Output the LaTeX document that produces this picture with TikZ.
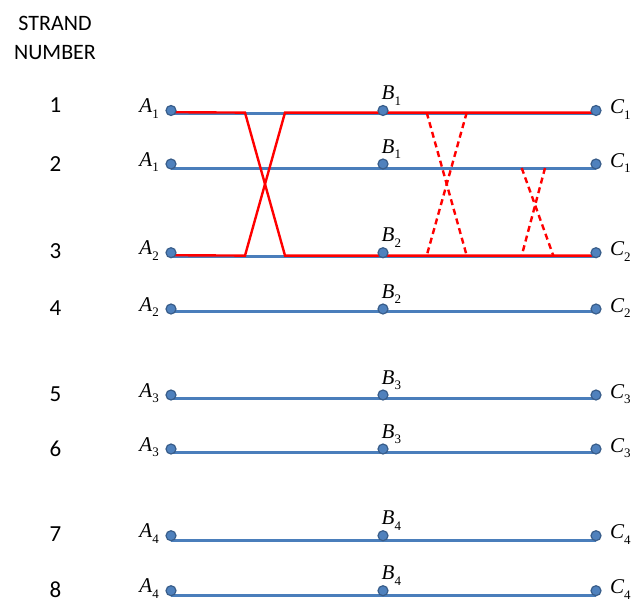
\documentclass[tikz,border=0pt]{standalone}
\usepackage{fontspec}
\setmainfont{Liberation Serif}
\newfontfamily\calib{Carlito}
\definecolor{lineblue}{RGB}{74,126,187}
\definecolor{dotfill}{RGB}{79,129,189}
\definecolor{dotedge}{RGB}{56,93,138}
\pgfdeclarelayer{bg}
\pgfsetlayers{bg,main}
\tikzset{
  dot/.style={circle,fill=dotfill,draw=dotedge,line width=1.2pt,inner sep=0pt,minimum size=10pt},
  strandline/.style={lineblue,line width=3pt},
  redline/.style={red,line width=2.4pt},
  reddash/.style={red,line width=2.4pt,dash pattern=on 6pt off 4pt},
  lbl/.style={font=\fontsize{21}{21}\selectfont\itshape,inner sep=0pt},
  num/.style={font=\calib\fontsize{23}{23}\selectfont,inner sep=0pt},
  ttl/.style={font=\calib\fontsize{22}{29}\selectfont,inner sep=0pt,align=center},
}
\newcommand\lab[2]{#1\raisebox{-0.28em}{\upshape\fontsize{13}{13}\selectfont #2}}
\begin{document}
\begin{tikzpicture}[x=1pt,y=-1pt]
\useasboundingbox (0,0) rectangle (634,603);
\node[ttl] (title) at (55,38) {STRAND\\NUMBER};
\foreach \i/\dy/\ly/\ny/\k in {1/110.5/113/105/1, 2/164/168/164/1, 3/252.7/256/251/2, 4/309/311.5/308/2, 5/395/398/394/3, 6/449/452.5/449/3, 7/535.7/540/534/4, 8/590.7/595.5/590/4}{
  \node[num] (n\i) at (55.5,\ny) {\i};
  \node[dot] (a\i) at (171,\dy) {};
  \node[dot] (b\i) at (383,\dy) {};
  \node[dot] (c\i) at (596,\dy) {};
  \coordinate (la\i) at (171,\ly);
  \coordinate (lc\i) at (596,\ly);
  \node[lbl,anchor=base east] (ta\i) at ([xshift=-12pt,yshift=-2pt]a\i.center) {\lab{A}{\k}};
  \node[lbl,anchor=base west] (tb\i) at ([xshift=-1.5pt,yshift=11pt]b\i.center) {\lab{B}{\k}};
  \node[lbl,anchor=base west] (tc\i) at ([xshift=14pt,yshift=-3pt]c\i.center) {\lab{C}{\k}};
  \begin{pgfonlayer}{bg}
    \draw[strandline] (la\i) -- (lc\i);
  \end{pgfonlayer}
}
% crossing points
\coordinate (s1a) at (245,112.6);
\coordinate (s1b) at (285,112.6);
\coordinate (s3a) at (245,255.6);
\coordinate (s3b) at (285,255.6);
\coordinate (r1a) at (171,112.2);
\coordinate (r1c) at (596,112.6);
\coordinate (r3a) at (171,255.2);
\coordinate (r3c) at (596,255.6);
\coordinate (d1a) at (426.7,112.6);
\coordinate (d1b) at (466.7,112.6);
\coordinate (d3a) at (426.7,255.6);
\coordinate (d3b) at (466.7,255.6);
\coordinate (e2a) at (521.7,168);
\coordinate (e2b) at (545,168);
\coordinate (e3a) at (521.7,255.6);
\coordinate (e3b) at (553.3,255.6);
\begin{pgfonlayer}{bg}
  \draw[redline] (r1a) -- (s1a) -- (s3b) -- (r3c);
  \draw[redline] (r3a) -- (s3a) -- (s1b) -- (r1c);
  \draw[reddash] (d1a) -- (d3b);
  \draw[reddash] (d1b) -- (d3a);
  \draw[reddash] (e2a) -- (e3b);
  \draw[reddash] (e2b) -- (e3a);
\end{pgfonlayer}
\end{tikzpicture}
\end{document}
